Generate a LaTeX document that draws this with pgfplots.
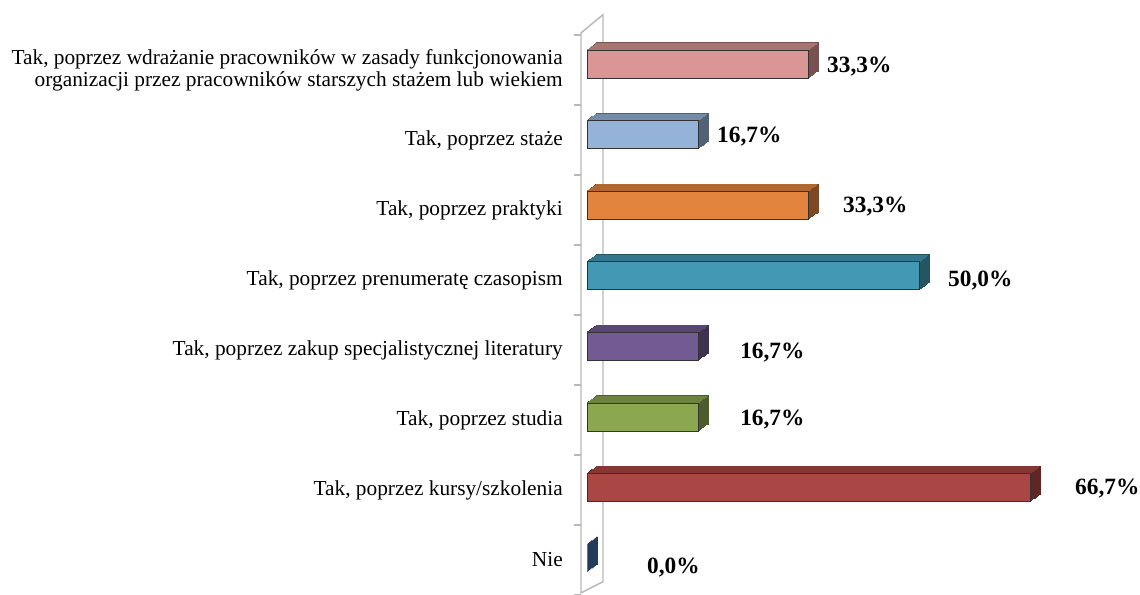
\documentclass[border=0pt]{standalone}
\usepackage{fontspec}
\setmainfont{Liberation Serif}
\usepackage{pgfplots}
\pgfplotsset{compat=1.18}

\definecolor{cPink}{RGB}{217,150,148}
\definecolor{cBlue}{RGB}{149,179,215}
\definecolor{cOrange}{RGB}{226,132,62}
\definecolor{cTeal}{RGB}{67,153,179}
\definecolor{cPurple}{RGB}{114,90,146}
\definecolor{cGreen}{RGB}{139,167,80}
\definecolor{cRed}{RGB}{170,70,67}
\definecolor{cNavy}{RGB}{66,110,165}
\definecolor{wallgray}{RGB}{185,185,185}

% #1 value, #2 y position, #3 front colour
\newcommand{\threedbar}[3]{%
  \pgfplotsinvokeforeach{8,7,6,5,4,3,2,1}{%
    \addplot[xbar, bar shift=0pt, bar width=21pt, fill=#3!55!black, draw=#3!55!black,
      line width=0.9pt, xshift=##1*0.9375pt, yshift=##1*0.656pt, forget plot]
      coordinates {(#1,#2)};
  }
  \pgfplotsinvokeforeach{8,7,6,5,4,3,2,1}{%
    \addplot[xbar, bar shift=0pt, bar width=1.2pt, fill=#3!78!black, draw=none,
      xshift=##1*0.9375pt-0.6pt, yshift=##1*0.656pt+9.9pt, forget plot]
      coordinates {(#1,#2)};
  }
  \addplot[xbar, bar shift=0pt, bar width=21pt, fill=#3, draw=black!80,
    line width=0.6pt, forget plot] coordinates {(#1,#2)};
}

\begin{document}
\begin{tikzpicture}
\begin{axis}[
  scale only axis,
  width=398.5pt, height=420pt,
  xmin=0, xmax=80, ymin=-0.5, ymax=7.5,
  hide x axis,
  y axis line style={draw=none},
  ytick={0,1,2,3,4,5,6,7},
  yticklabels={Nie,
    {Tak, poprzez kursy/szkolenia},
    {Tak, poprzez studia},
    {Tak, poprzez zakup specjalistycznej literatury},
    {Tak, poprzez prenumeratę czasopism},
    {Tak, poprzez praktyki},
    {Tak, poprzez staże},
    {Tak, poprzez wdrażanie pracowników w zasady funkcjonowania\\organizacji przez pracowników starszych stażem lub wiekiem}},
  major tick length=0pt,
  yticklabel style={anchor=east, inner sep=0pt, xshift=-18pt, align=right,
    font=\fontsize{16pt}{16.5pt}\selectfont},
  clip=false,
]
% wall
\draw[wallgray, line width=1.1pt, fill=white]
  (axis cs:-0.9,7.53) -- (axis cs:2.41,7.79) -- (axis cs:2.41,-0.31)
  -- (axis cs:-0.9,-0.47) -- cycle;
\pgfplotsinvokeforeach{-0.5,0.5,1.5,2.5,3.5,4.5,5.5,6.5,7.5}{
  \draw[wallgray, line width=1.1pt] (axis cs:-1.96,#1) -- (axis cs:-0.9,#1);
}

\threedbar{33.3}{7.086}{cPink}
\threedbar{16.7}{6.078}{cBlue}
\threedbar{33.3}{5.07}{cOrange}
\threedbar{50.0}{4.061}{cTeal}
\threedbar{16.7}{3.053}{cPurple}
\threedbar{16.7}{2.044}{cGreen}
\threedbar{66.7}{1.036}{cRed}
\threedbar{0.0}{0.03}{cNavy}

\addplot[draw=none, mark=none,
  nodes near coords={\pgfplotspointmeta\%},
  point meta=explicit symbolic,
  nodes near coords style={anchor=west, inner sep=0pt,
    font=\bfseries\fontsize{17.5pt}{20pt}\selectfont, text=black}]
  table[meta=lab] {
x y lab
36.13 7.046 33,3
19.57 6.046 16,7
38.54 5.05 33,3
54.35 3.99 50,0
23.04 2.96 16,7
23.04 2.00 16,7
73.47 1.02 66,7
9.03 -0.11 0,0
};
\end{axis}
\pgfresetboundingbox
\path[x=0.75pt,y=0.75pt] (-587,1) rectangle (553,595);
\end{tikzpicture}
\end{document}
